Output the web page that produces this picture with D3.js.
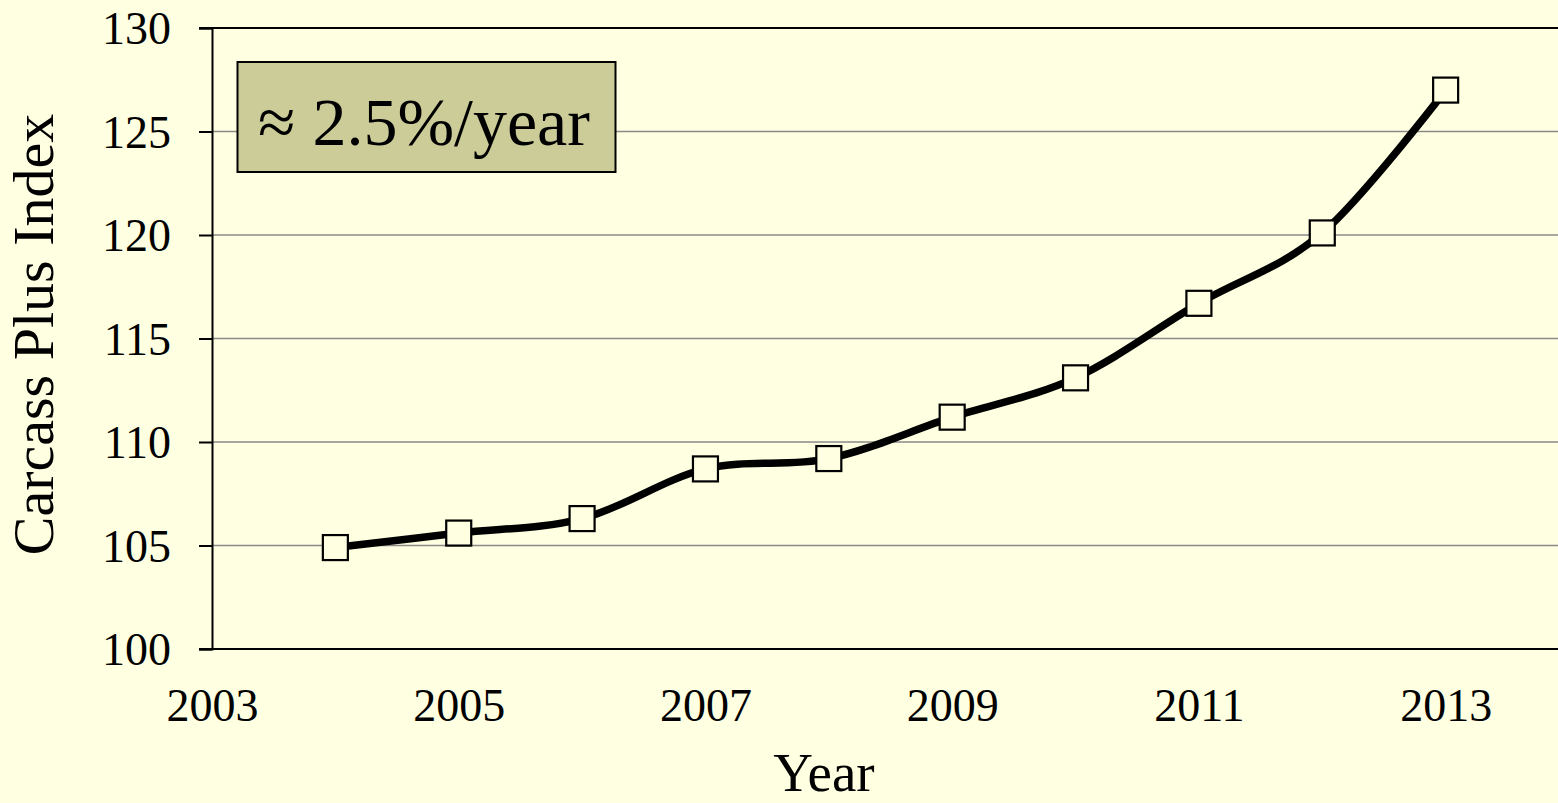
<!DOCTYPE html>
<html>
<head>
<meta charset="utf-8">
<script src="https://cdn.jsdelivr.net/npm/d3@7"></script>
<style>
  html, body { margin: 0; padding: 0; background: #FFFFE1; }
  svg { display: block; }
  text { font-family: "Liberation Serif", "Times New Roman", serif; fill: #000; }
</style>
</head>
<body>
<svg id="chart" width="1558" height="803"></svg>
<script>
// Carcass Plus Index by year
const years = [2004, 2005, 2006, 2007, 2008, 2009, 2010, 2011, 2012, 2013];
const indexValues = [104.9, 105.6, 106.3, 108.7, 109.2, 111.2, 113.1, 116.7, 120.1, 127.0];
const xTickValues = [2003, 2005, 2007, 2009, 2011, 2013];
const yTickValues = [100, 105, 110, 115, 120, 125, 130];
const annotationText = "≈ 2.5%/year";
const xTitle = "Year";
const yTitle = "Carcass Plus Index";

const svg = d3.select("#chart");
const W = 1558, H = 803;
const plotLeft = 212, plotTop = 28, plotBottom = 649, plotRight = 1569;

const x = d3.scaleLinear().domain([2003, 2014]).range([plotLeft, plotRight]);
const y = d3.scaleLinear().domain([100, 130]).range([plotBottom, plotTop]);

svg.append("rect").attr("width", W).attr("height", H).attr("fill", "#FFFFE1");

// horizontal gridlines
svg.append("g")
  .selectAll("line")
  .data(yTickValues.filter(v => v > 100 && v < 130))
  .join("line")
  .attr("x1", plotLeft).attr("x2", W)
  .attr("y1", d => y(d)).attr("y2", d => y(d))
  .attr("stroke", "#8a8a8a").attr("stroke-width", 1.5);

// top border of plot area
svg.append("line")
  .attr("x1", plotLeft - 13).attr("x2", W)
  .attr("y1", y(130)).attr("y2", y(130))
  .attr("stroke", "#000").attr("stroke-width", 2);

// y axis
const yAxis = svg.append("g")
  .attr("transform", `translate(${plotLeft},0)`)
  .call(d3.axisLeft(y).tickValues(yTickValues).tickSize(13).tickPadding(28).tickFormat(d3.format("d")));
yAxis.select(".domain").attr("stroke", "#000").attr("stroke-width", 2);
yAxis.selectAll(".tick line").attr("stroke", "#000").attr("stroke-width", 2);
yAxis.selectAll(".tick text").attr("font-size", 46).attr("font-family", "Liberation Serif, serif").attr("dy", "0.34em");

// x axis
const xAxis = svg.append("g")
  .attr("transform", `translate(0,${plotBottom})`)
  .call(d3.axisBottom(x).tickValues(xTickValues).tickSize(0).tickPadding(39).tickFormat(d3.format("d")));
xAxis.select(".domain").attr("stroke", "none");
xAxis.selectAll(".tick text").attr("font-size", 46).attr("font-family", "Liberation Serif, serif").attr("dy", "0.71em");
svg.append("line")
  .attr("x1", plotLeft - 13).attr("x2", W)
  .attr("y1", plotBottom).attr("y2", plotBottom)
  .attr("stroke", "#000").attr("stroke-width", 2);

// axis titles
svg.append("text")
  .attr("x", 824).attr("y", 791)
  .attr("text-anchor", "middle")
  .attr("font-size", 55)
  .text(xTitle);
svg.append("text")
  .attr("transform", `translate(53,${(plotTop + plotBottom) / 2 - 4}) rotate(-90)`)
  .attr("text-anchor", "middle")
  .attr("font-size", 58)
  .text(yTitle);

// smoothed series line
const data = years.map((yr, i) => ({ yr, v: indexValues[i] }));
const line = d3.line().x(d => x(d.yr)).y(d => y(d.v)).curve(d3.curveCardinal.tension(0));
svg.append("path")
  .datum(data)
  .attr("d", line)
  .attr("fill", "none")
  .attr("stroke", "#000")
  .attr("stroke-width", 7.5)
  .attr("stroke-linejoin", "round");

// square markers
const m = 25;
svg.append("g")
  .selectAll("rect")
  .data(data)
  .join("rect")
  .attr("x", d => x(d.yr) - m / 2)
  .attr("y", d => y(d.v) - m / 2)
  .attr("width", m).attr("height", m)
  .attr("fill", "#FFFFE1")
  .attr("stroke", "#000").attr("stroke-width", 2.2);

// growth annotation
const ann = svg.append("g");
ann.append("rect")
  .attr("x", 237.5).attr("y", 62).attr("width", 378).attr("height", 110)
  .attr("fill", "#CCCC99").attr("stroke", "#000").attr("stroke-width", 2);
ann.append("text")
  .attr("x", 424).attr("y", 145)
  .attr("text-anchor", "middle")
  .attr("font-size", 68)
  .text(annotationText);
</script>
</body>
</html>
